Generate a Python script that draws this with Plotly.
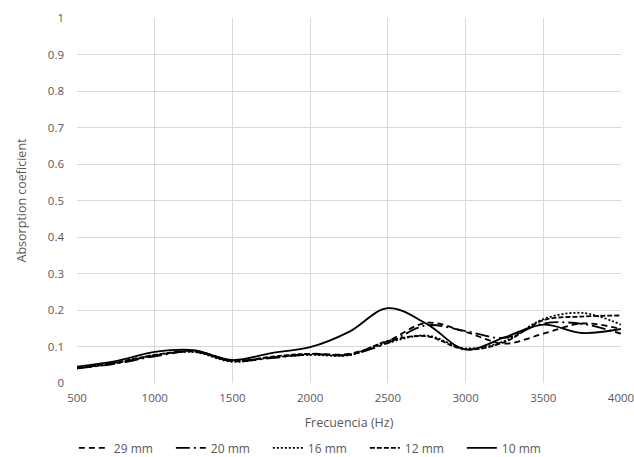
import plotly.graph_objects as go

# Frequency grid (Hz)
freq = [500, 750, 1000, 1250, 1500, 1750, 2000, 2250, 2500, 2750, 3000, 3250, 3500, 3750, 4000]

# Absorption coefficient per sample thickness
abs_29mm = [0.040, 0.055, 0.075, 0.088, 0.062, 0.070, 0.080, 0.080, 0.115, 0.165, 0.140, 0.108, 0.135, 0.163, 0.148]
abs_20mm = [0.040, 0.053, 0.073, 0.086, 0.060, 0.068, 0.078, 0.078, 0.110, 0.158, 0.142, 0.124, 0.163, 0.162, 0.135]
abs_16mm = [0.042, 0.055, 0.076, 0.085, 0.058, 0.070, 0.077, 0.076, 0.110, 0.130, 0.095, 0.115, 0.175, 0.192, 0.160]
abs_12mm = [0.040, 0.056, 0.077, 0.087, 0.060, 0.072, 0.080, 0.077, 0.115, 0.128, 0.092, 0.112, 0.172, 0.182, 0.185]
abs_10mm = [0.045, 0.060, 0.085, 0.090, 0.063, 0.082, 0.098, 0.140, 0.205, 0.162, 0.092, 0.125, 0.160, 0.137, 0.148]

series_names = ["29 mm", "20 mm", "16 mm", "12 mm", "10 mm"]
series_values = [abs_29mm, abs_20mm, abs_16mm, abs_12mm, abs_10mm]
dash_styles = ["6px,4px", "14px,4px,2px,4px", "2px,2px", "5px,2px", "solid"]

x_ticks = [500, 1000, 1500, 2000, 2500, 3000, 3500, 4000]
y_ticks = [0, 0.1, 0.2, 0.3, 0.4, 0.5, 0.6, 0.7, 0.8, 0.9, 1]
y_tick_text = ["0", "0.1", "0.2", "0.3", "0.4", "0.5", "0.6", "0.7", "0.8", "0.9", "1"]

fig = go.Figure()
for name, vals, dash in zip(series_names, series_values, dash_styles):
    fig.add_trace(go.Scatter(
        x=freq, y=vals, name=name, mode="lines",
        line=dict(color="#000000", width=1.8, dash=dash, shape="spline", smoothing=1.0),
    ))

font_family = "Open Sans, Liberation Sans, sans-serif"
fig.update_layout(
    width=634, height=457,
    margin=dict(l=77, r=13, t=18, b=74),
    paper_bgcolor="white", plot_bgcolor="white",
    font=dict(family=font_family, size=12, color="#595959"),
    showlegend=True,
    legend=dict(
        orientation="h", x=0.44, xanchor="center",
        yref="container", y=0.02, yanchor="middle",
        entrywidth=52, entrywidthmode="pixels",
        font=dict(size=12, color="#595959"),
    ),
    xaxis=dict(
        range=[500, 4000], tickvals=x_ticks, automargin=False,
        ticklabeloverflow="allow",
        showgrid=True, gridcolor="#d9d9d9", gridwidth=1,
        zeroline=False, showline=False, ticks="", ticklabelstandoff=6,
        tickfont=dict(size=11.5),
        title=dict(text="Frecuencia (Hz)", font=dict(size=12.5, color="#595959"), standoff=14),
    ),
    yaxis=dict(
        range=[0, 1], tickvals=y_ticks, ticktext=y_tick_text, automargin=False,
        showgrid=True, gridcolor="#d9d9d9", gridwidth=1,
        zeroline=False, showline=False, ticks="", ticklabelstandoff=12,
        tickfont=dict(size=11.5),
        title=dict(text="Absorption coeficient", font=dict(size=12.5, color="#595959"), standoff=18),
    ),
)

fig.write_html("out.html")
